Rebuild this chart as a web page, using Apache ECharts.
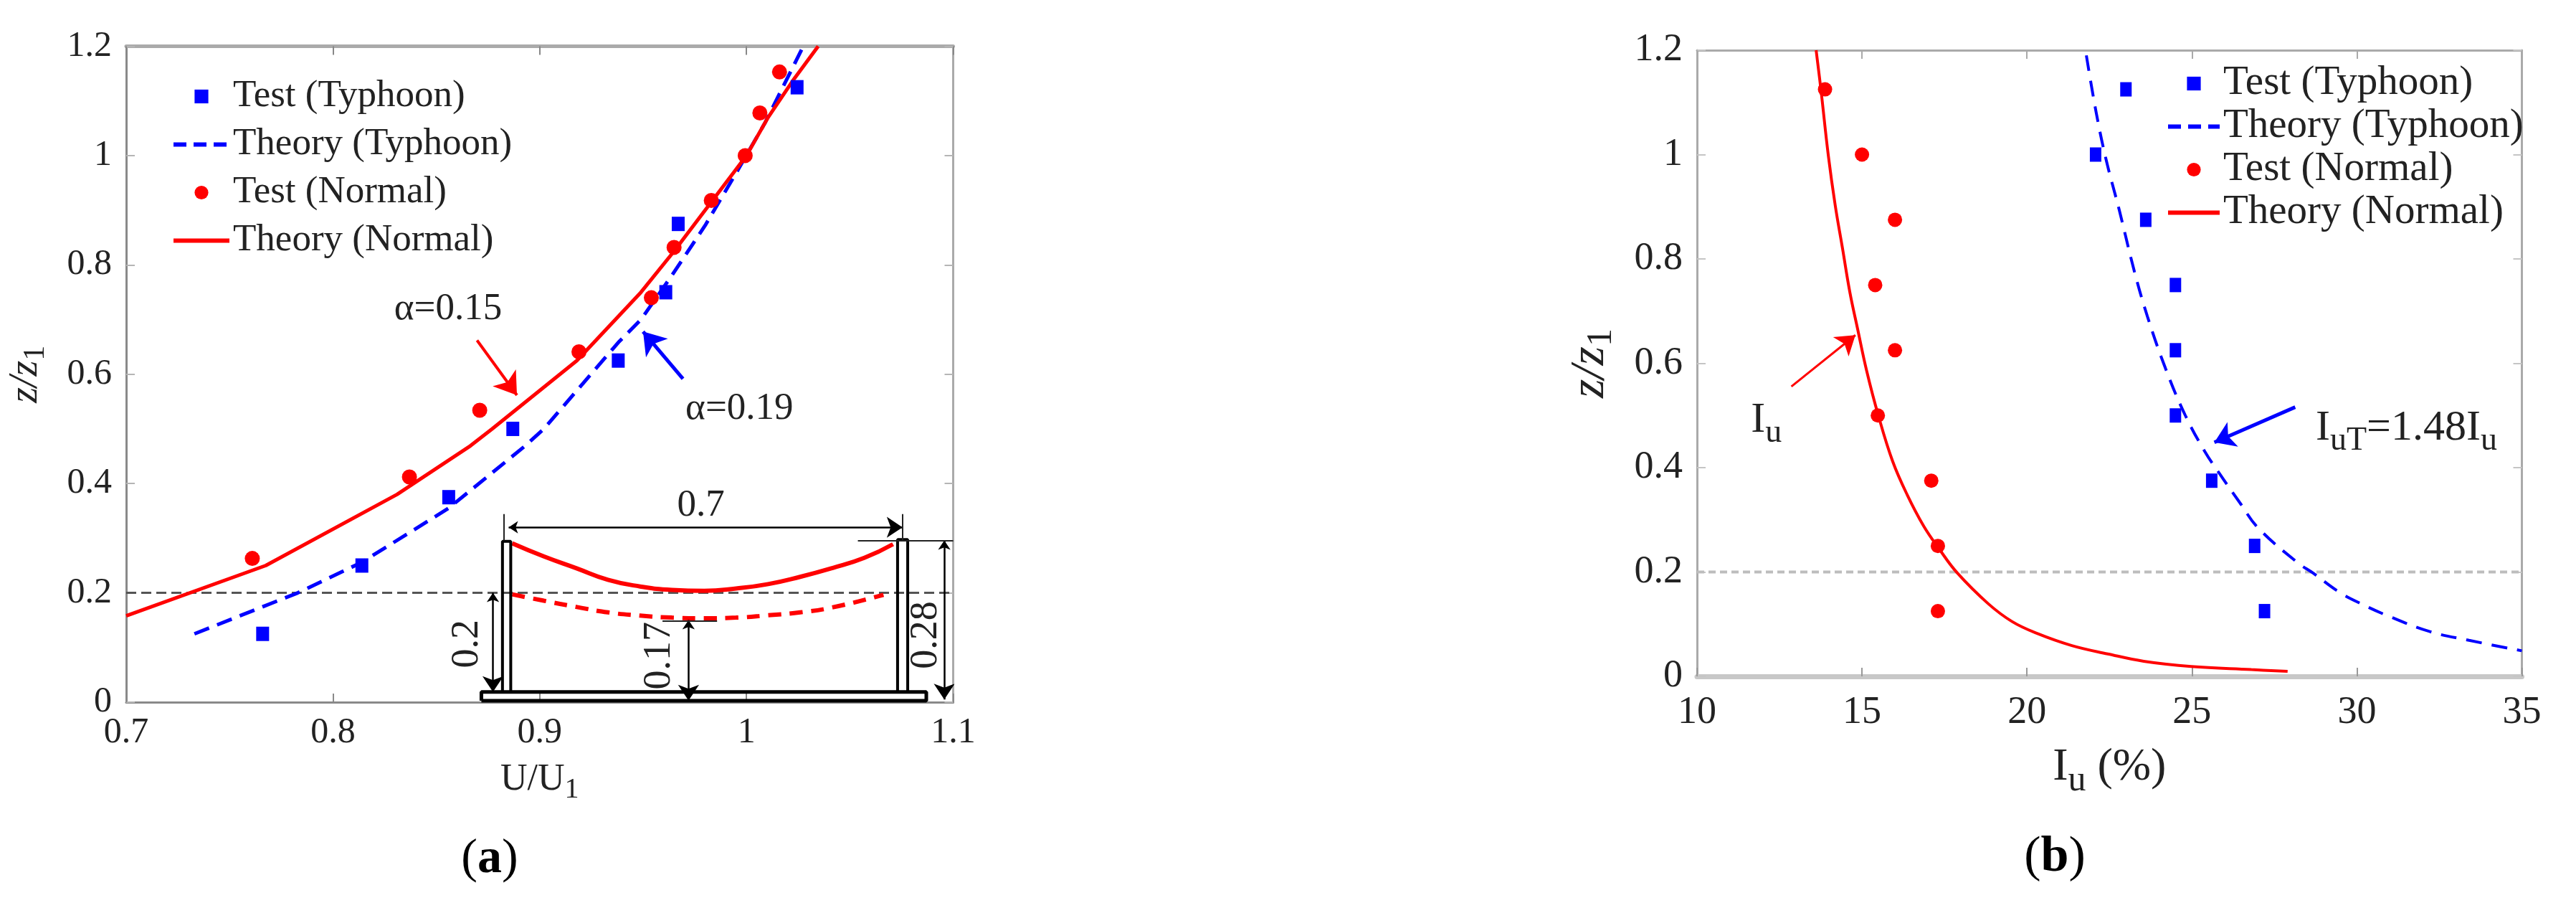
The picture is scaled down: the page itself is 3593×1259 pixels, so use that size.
<!DOCTYPE html>
<html><head><meta charset="utf-8"><style>html,body{margin:0;background:#fff}#c{width:3593px;height:1259px}</style>
<script src="https://cdn.jsdelivr.net/npm/echarts@6/dist/echarts.min.js"></script></head><body><div id="c"></div>
<script>
const xTicksA=[0.7,0.8,0.9,1,1.1], yTicks=[0,0.2,0.4,0.6,0.8,1,1.2], xTicksB=[10,15,20,25,30,35];
const aTestTyphoon=[[1.0245,1.125],[.967,.875],[.961,.75],[.938,.625],[.887,.5],[.856,.375],[.814,.25],[.766,.125]];
const aTestNormal=[[1.016,1.153],[1.0065,1.078],[.9994,1.0],[.983,.918],[.965,.832],[.954,.74],[.919,.641],[.871,.534],[.837,.412],[.761,.263]];
const aTheoryNormal=[[.7,.158],[.7675,.25],[.831,.38],[.8665,.469],[.877,.5],[.918,.625],[.949,.75],[.965,.825],[.983,.915],[1,1],[1.0105,1.07],[1.023,1.14],[1.0347,1.2]];
const aTheoryTyphoon=[[.733,.125],[.783,.2],[.814,.256],[.856,.355],[.893,.469],[.902,.5],[.938,.658],[.949,.7],[.964,.781],[.98,.872],[.995,.968],[1.009,1.06],[1.0275,1.2]];
const bTestTyphoon=[[23,1.125],[22.08,1],[23.6,.875],[24.5,.75],[24.5,.625],[24.5,.5],[25.6,.375],[26.9,.25],[27.2,.125]];
const bTestNormal=[[13.88,1.125],[15,1],[16,.875],[15.4,.75],[16,.625],[15.48,.5],[17.1,.375],[17.3,.25],[17.3,.125]];
const bTheoryNormal=[[13.61,1.2],[13.76,1.122],[13.98,.998],[14.19,.902],[14.41,.82],[14.63,.737],[14.87,.665],[15.14,.586],[15.5,.499],[15.93,.412],[16.37,.348],[16.87,.288],[17.33,.245],[17.89,.198],[18.83,.139],[19.55,.105],[20.28,.083],[21.36,.059],[22.45,.043],[23.54,.029],[24.98,.019],[26.8,.013],[27.9,.0095]];
const bTheoryTyphoon=[[21.8,1.19],[22.1,1.08],[22.4,.99],[22.8,.893],[23.26,.775],[23.65,.69],[24.2,.59],[24.8,.5],[25.4,.43],[25.93,.38],[26.45,.333],[27,.285],[28.2,.218],[28.67,.198],[29.45,.162],[30.1,.14],[30.9,.117],[32.2,.086],[33.4,.069],[35,.049]];
const insetSolid=[[.8867,.2907],[.902,.2667],[.9176,.2453],[.933,.224],[.9486,.2117],[.964,.2053],[.9796,.2037],[.995,.208],[1.0105,.216],[1.026,.2293],[1.0415,.2453],[1.057,.264],[1.0709,.289]];
const insetDashed=[[.8867,.1973],[.902,.1856],[.9176,.1744],[.933,.1643],[.9486,.1584],[.964,.1547],[.9796,.1536],[.995,.1547],[1.0105,.159],[1.026,.1643],[1.0415,.1733],[1.0663,.1963]];
const insetBase=[[.8718,.0027],[1.087,.0027],[1.087,.0187],[.8718,.0187],[.8718,.0027]];
const insetLeftTower=[[.882,.0187],[.882,.2944],[.886,.2944],[.886,.0187]];
const insetRightTower=[[1.0731,.0187],[1.0731,.2976],[1.078,.2976],[1.078,.0187]];
const refA=[[.7,.2],[1.1,.2]], refB=[[10,.2],[35,.2]];
const redA=[[.8697,.662],[.889,.5616]], blueA=[[.9693,.5916],[.95,.678]];
const redB=[[12.86,.5555],[14.8,.654]], blueB=[[28.13,.516],[25.68,.4485]];
const dimDouble=[[[.885,.32],[1.0755,.32]],[[1.0957,.296],[1.0957,.005]],[[.8774,.2],[.8774,.0187]],[[.972,.1504],[.972,.003]]];
const dimPlain=[[[.8825,.344],[.8825,.296]],[[1.0755,.344],[1.0755,.296]],[[1.0539,.296],[1.1,.296]],[[.9594,.149],[.9858,.149]]];
const aNotes=[['α=0.15',.8557,.7186,0,53],['α=0.19',.9966,.5364,0,53],['0.7',.978,.36,0,53],['0.2',.865,.1067,90,54],['0.17',.958,.085,90,54],['0.28',1.087,.1227,90,54]];
const bNotes=[['{m|I}{s|u}',12.1,.49,0,60],['{m|I}{s|uT}{m|=1.48I}{s|u}',31.5,.475,0,60]];
const F='"Liberation Serif"', RED='#ff0000', BLUE='#0000ff', INK='#222';
function sub(size,pad){return {fontSize:size,fontFamily:F,color:INK,lineHeight:size,padding:[pad,0,0,0]};}
function main(size,it){return {fontSize:size,fontFamily:F,color:INK,lineHeight:size,verticalAlign:'top',fontStyle:it?'italic':'normal'};}
const richNote={m:main(60),s:sub(46,34)};
const richXA={m:main(52),s:sub(40,30)};
const richXB={m:main(64),s:sub(50,38)};
const richYA={i:main(56,true),s:sub(42,28)};
const richYB={i:main(68,true),s:sub(50,32)};
function cols(i){return {xAxisIndex:i,yAxisIndex:i};}
function axis(o,pos,lab,lc,lw,tc){return Object.assign({type:'value',position:pos,axisLine:{onZero:false,lineStyle:{color:lc,width:lw}},axisTick:{inside:true,length:12,lineStyle:{color:tc,width:2}},splitLine:{show:false},axisLabel:{show:lab}},o);}
function lab(size,m,fmt){return {show:true,fontFamily:F,fontSize:size,color:INK,margin:m,showMinLabel:true,showMaxLabel:true,formatter:fmt};}
const fmt1=v=>String(+v.toFixed(1));
function plot(name,data,sym,size,color,idx){return {type:'line',name,data,symbol:sym,symbolSize:size,itemStyle:{color},lineStyle:{width:0,color},silent:true,z:6,xAxisIndex:idx,yAxisIndex:idx};}
function curve(name,data,color,w,dash,smooth){return {type:'line',name,data,showSymbol:false,symbol:'none',smooth:smooth||false,color,itemStyle:{color},lineStyle:{color,width:w,type:dash||'solid'},z:5};}
function seg(data,color,w,idx,dash,z,smooth){return {type:'line',data,showSymbol:false,symbol:'none',smooth:smooth||false,lineStyle:{color,width:w,type:dash||'solid'},itemStyle:{color},silent:true,z:z||4,xAxisIndex:idx,yAxisIndex:idx,clip:false};}
function arrows(list,color,w,size,syms,idx){return {type:'lines',coordinateSystem:'cartesian2d',xAxisIndex:idx,yAxisIndex:idx,polyline:false,symbol:syms,symbolSize:size,lineStyle:{color,width:w,opacity:1},silent:true,z:7,data:list.map(c=>({coords:c}))};}
function notes(list,idx){return {type:'scatter',xAxisIndex:idx,yAxisIndex:idx,symbolSize:0,silent:true,z:8,itemStyle:{opacity:1},data:list.map(n=>({value:[n[1],n[2]],itemStyle:{opacity:1},label:{show:true,position:'inside',align:'center',verticalAlign:'middle',rotate:n[3],formatter:n[0],fontFamily:F,fontSize:n[4],color:INK,rich:richNote,opacity:1}}))};}
const sA=[
 plot('Test (Typhoon)',aTestTyphoon,'rect',[18,20],BLUE,0),
 Object.assign(curve('Theory (Typhoon)',aTheoryTyphoon,BLUE,5,[22,12]),cols(0)),
 plot('Test (Normal)',aTestNormal,'circle',[21,21],RED,0),
 Object.assign(curve('Theory (Normal)',aTheoryNormal,RED,5),cols(0)),
 seg(refA,'#555',3,0,[14,7],3),
 seg(insetSolid,RED,6,0,null,4,.5),seg(insetDashed,RED,6,0,[18,12],4,.5),
 seg(insetBase,'#000',5,0),seg(insetLeftTower,'#000',4,0),seg(insetRightTower,'#000',4,0),
 arrows([redA],RED,4,[24,30],['none','arrow'],0),arrows([blueA],BLUE,5,[24,30],['none','arrow'],0),
 arrows(dimDouble,'#000',2.5,[13,22],['arrow','arrow'],0),
 arrows(dimPlain,'#222',2,0,['none','none'],0),
 notes(aNotes,0)];
const sB=[
 plot('Test (Typhoon)',bTestTyphoon,'rect',[16,20],BLUE,1),
 Object.assign(curve('Theory (Typhoon)',bTheoryTyphoon,BLUE,4,[22,14],.4),cols(1)),
 plot('Test (Normal)',bTestNormal,'circle',[20,20],RED,1),
 Object.assign(curve('Theory (Normal)',bTheoryNormal,RED,4,null,.4),cols(1)),
 seg(refB,'#bdbdbd',4,1,[10,6],3),
 arrows([redB],RED,3,[18,26],['none','arrow'],1),arrows([blueB],BLUE,5,[20,28],['none','arrow'],1),
 notes(bNotes,1)];
const series=sA.concat(sB);
function legendItems(dash){return [
 {name:'Test (Typhoon)',lineStyle:{opacity:0}},
 {name:'Theory (Typhoon)',itemStyle:{opacity:0},lineStyle:{width:6,type:dash}},
 {name:'Test (Normal)',lineStyle:{opacity:0}},
 {name:'Theory (Normal)',itemStyle:{opacity:0},lineStyle:{width:6}}];}
function legend(left,top,gap,w,size,pad,dash,idx){return {left,top,orient:'vertical',itemWidth:w,itemHeight:24,itemGap:gap,align:'left',selectedMode:false,textStyle:{fontFamily:F,fontSize:size,color:INK,padding:[0,0,0,pad],lineHeight:42},data:legendItems(dash),seriesIndex:idx};}
const option={animation:false,backgroundColor:'#fff',
 legend:[
  legend(234,103,14,78,53,0,[18,10],[0,1,2,3]),
  legend(3016,83,3,72,57,0,[18,10],[sA.length,sA.length+1,sA.length+2,sA.length+3])],
 grid:[{left:176,width:1153.5,top:64.5,height:914.5},{left:2367,width:1150.5,top:70,height:873}],
 xAxis:[
  axis({gridIndex:0,min:.7,max:1.1,interval:.1,name:'{m|U/U}{s|1}',nameLocation:'middle',nameGap:72,nameTextStyle:{rich:richXA},axisLabel:lab(50,18,fmt1)},'bottom',true,'#8a8a8a',3,'#8a8a8a'),
  axis({gridIndex:1,min:10,max:35,interval:5,name:'{m|I}{s|u}{m| (%)}',nameLocation:'middle',nameGap:84,nameTextStyle:{rich:richXB},axisLabel:lab(54,24)},'bottom',true,'#c8c8c8',7,'#999'),
  axis({gridIndex:0,min:.7,max:1.1,interval:.1},'top',false,'#aaaaaa',5,'#888'),
  axis({gridIndex:1,min:10,max:35,interval:5},'top',false,'#aaaaaa',3,'#aaa')],
 yAxis:[
  axis({gridIndex:0,min:0,max:1.2,interval:.2,axisLabel:lab(50,20,fmt1),name:'{i|z/z}{s|1}',nameLocation:'middle',nameGap:112,nameRotate:90,nameTextStyle:{rich:richYA}},'left',true,'#8a8a8a',3,'#b5b5b5'),
  axis({gridIndex:1,min:0,max:1.2,interval:.2,axisLabel:lab(54,20,fmt1),name:'{i|z/z}{s|1}',nameLocation:'middle',nameGap:115,nameRotate:90,nameTextStyle:{rich:richYB}},'left',true,'#aaaaaa',3,'#c5c5c5'),
  axis({gridIndex:0,min:0,max:1.2,interval:.2},'right',false,'#aaaaaa',3,'#b5b5b5'),
  axis({gridIndex:1,min:0,max:1.2,interval:.2},'right',false,'#aaaaaa',3,'#c5c5c5')],
 graphic:[
  {type:'text',x:683,y:1198,silent:true,style:{text:'{n|(}{b|a}{n|)}',align:'center',verticalAlign:'middle',rich:{n:{fontFamily:F,fontSize:68,fill:'#000'},b:{fontFamily:F,fontSize:68,fontWeight:'bold',fill:'#000'}}}},
  {type:'text',x:2866,y:1196,silent:true,style:{text:'{n|(}{b|b}{n|)}',align:'center',verticalAlign:'middle',rich:{n:{fontFamily:F,fontSize:70,fill:'#000'},b:{fontFamily:F,fontSize:70,fontWeight:'bold',fill:'#000'}}}}],
 series};
echarts.init(document.getElementById('c')).setOption(option);
</script></body></html>
